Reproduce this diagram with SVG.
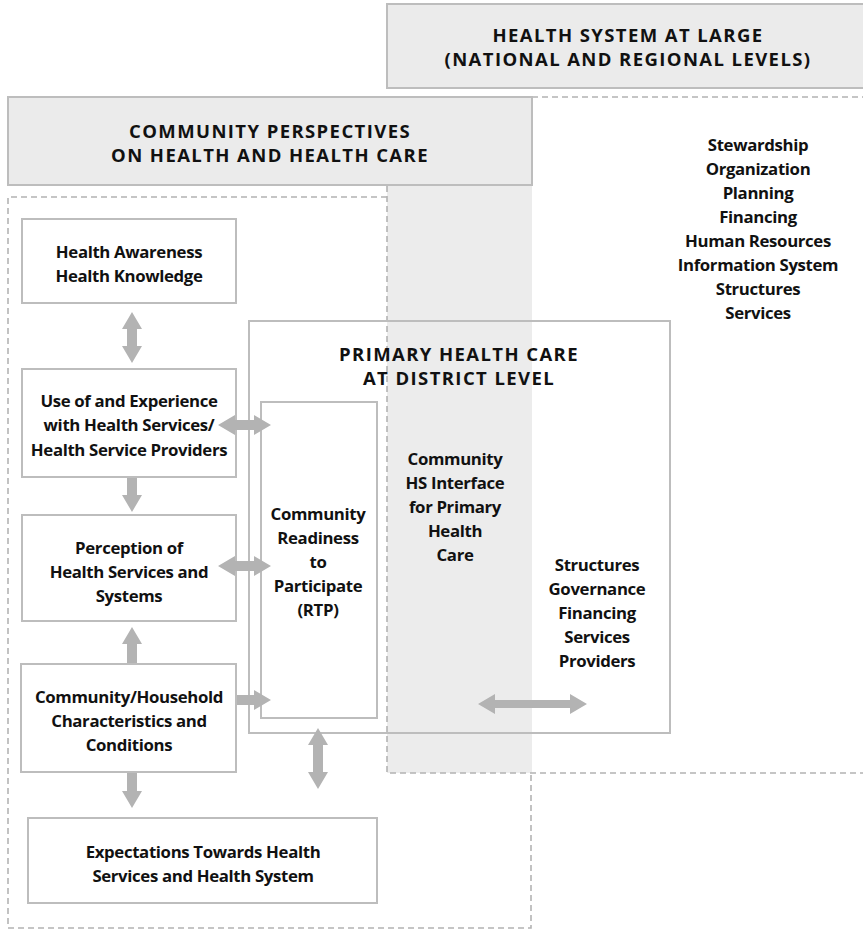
<svg xmlns="http://www.w3.org/2000/svg" width="863" height="931" viewBox="0 0 863 931">
  <style>
    .bg { fill: #ffffff; }
    .zone { fill: #ececec; stroke: none; }
    .header { fill: #ebebeb; stroke: #bdbdbd; stroke-width: 2; }
    .dash { fill: none; stroke: #b3b3b3; stroke-width: 1.6; stroke-dasharray: 6 4; }
    .box { fill: #ffffff; stroke: #bdbdbd; stroke-width: 2; }
    .frame { fill: none; stroke: #bdbdbd; stroke-width: 2; }
    .arrow { fill: #b3b3b3; stroke: none; }
    text { font-family: "Open Sans", "Liberation Sans", sans-serif; font-weight: 700; fill: #111111; text-anchor: middle; }
    .t { font-size: 16.8px; letter-spacing: -0.35px; }
    .h { font-size: 18.5px; letter-spacing: 1.4px; }
  </style>

  <rect class="bg" x="0" y="0" width="863" height="931"/>

  <!-- overlap of community and health-system areas -->
  <rect class="zone" x="387" y="185" width="145" height="588"/>

  <!-- dashed area outlines -->
  <g id="areas">
    <path class="dash" d="M387,197 H8 V928 H531 V773"/>
    <path class="dash" d="M532,97 H866"/>
    <path class="dash" d="M387,186 V773 H866"/>
  </g>

  <g id="health-system">
    <rect class="header" x="387" y="4" width="486" height="84"/>
    <text class="h" x="628" y="42">HEALTH SYSTEM AT LARGE</text>
    <text class="h" x="628" y="66">(NATIONAL AND REGIONAL LEVELS)</text>
  </g>

  <g id="community">
    <rect class="header" x="8" y="97" width="524" height="88"/>
    <text class="h" x="270" y="138">COMMUNITY PERSPECTIVES</text>
    <text class="h" x="270" y="162">ON HEALTH AND HEALTH CARE</text>
  </g>

  <g id="functions">
    <text class="t" x="758" y="151">Stewardship</text>
    <text class="t" x="758" y="175">Organization</text>
    <text class="t" x="758" y="199">Planning</text>
    <text class="t" x="758" y="223">Financing</text>
    <text class="t" x="758" y="247">Human Resources</text>
    <text class="t" x="758" y="271">Information System</text>
    <text class="t" x="758" y="295">Structures</text>
    <text class="t" x="758" y="319">Services</text>
  </g>

  <g id="awareness">
    <rect class="box" x="22" y="219" width="214" height="84"/>
    <text class="t" x="129" y="258">Health Awareness</text>
    <text class="t" x="129" y="282">Health Knowledge</text>
  </g>

  <g id="experience">
    <rect class="box" x="22" y="369" width="214" height="108"/>
    <text class="t" x="129" y="407">Use of and Experience</text>
    <text class="t" x="129" y="431">with Health Services/</text>
    <text class="t" x="129" y="456">Health Service Providers</text>
  </g>

  <g id="perception">
    <rect class="box" x="22" y="515" width="214" height="106"/>
    <text class="t" x="129" y="554">Perception of</text>
    <text class="t" x="129" y="578">Health Services and</text>
    <text class="t" x="129" y="602">Systems</text>
  </g>

  <g id="characteristics">
    <rect class="box" x="21" y="664" width="215" height="108"/>
    <text class="t" x="129" y="703">Community/Household</text>
    <text class="t" x="129" y="727">Characteristics and</text>
    <text class="t" x="129" y="751">Conditions</text>
  </g>

  <g id="expectations">
    <rect class="box" x="28" y="818" width="349" height="85"/>
    <text class="t" x="203" y="858">Expectations Towards Health</text>
    <text class="t" x="203" y="882">Services and Health System</text>
  </g>

  <g id="phc">
    <rect class="frame" x="249" y="321" width="421" height="412"/>
    <text class="h" x="459" y="361">PRIMARY HEALTH CARE</text>
    <text class="h" x="459" y="385">AT DISTRICT LEVEL</text>
    <text class="t" x="455" y="465">Community</text>
    <text class="t" x="455" y="489">HS Interface</text>
    <text class="t" x="455" y="513">for Primary</text>
    <text class="t" x="455" y="537">Health</text>
    <text class="t" x="455" y="561">Care</text>
    <text class="t" x="597" y="571">Structures</text>
    <text class="t" x="597" y="595">Governance</text>
    <text class="t" x="597" y="619">Financing</text>
    <text class="t" x="597" y="643">Services</text>
    <text class="t" x="597" y="667">Providers</text>
  </g>

  <g id="rtp">
    <rect class="box" x="261" y="402" width="116" height="316"/>
    <text class="t" x="318" y="520">Community</text>
    <text class="t" x="318" y="544">Readiness</text>
    <text class="t" x="318" y="568">to</text>
    <text class="t" x="318" y="592">Participate</text>
    <text class="t" x="318" y="616">(RTP)</text>
  </g>

  <g id="connectors">
    <!-- awareness <-> experience -->
    <polygon class="arrow" points="132,312 142,329 137,329 137,346 142,346 132,363 122,346 127,346 127,329 122,329"/>
    <!-- experience -> perception -->
    <polygon class="arrow" points="127,478 137,478 137,495 142,495 132,512 122,495 127,495"/>
    <!-- characteristics -> perception -->
    <polygon class="arrow" points="132,627 142,644 137,644 137,663 127,663 127,644 122,644"/>
    <!-- characteristics -> expectations -->
    <polygon class="arrow" points="127,773 137,773 137,791 142,791 132,808 122,791 127,791"/>
    <!-- experience <-> RTP -->
    <polygon class="arrow" points="218,425 235,415 235,420 254,420 254,415 271,425 254,435 254,430 235,430 235,435"/>
    <!-- perception <-> RTP -->
    <polygon class="arrow" points="218,566 235,556 235,561 254,561 254,556 271,566 254,576 254,571 235,571 235,576"/>
    <!-- characteristics -> RTP -->
    <polygon class="arrow" points="237,695 254,695 254,690 271,700 254,710 254,705 237,705"/>
    <!-- PHC <-> community below -->
    <polygon class="arrow" points="318,728 328,745 323,745 323,772 328,772 318,789 308,772 313,772 313,745 308,745"/>
    <!-- interface <-> district structures -->
    <polygon class="arrow" points="478,704 495,694 495,700 570,700 570,694 587,704 570,714 570,708 495,708 495,714"/>
  </g>
</svg>
